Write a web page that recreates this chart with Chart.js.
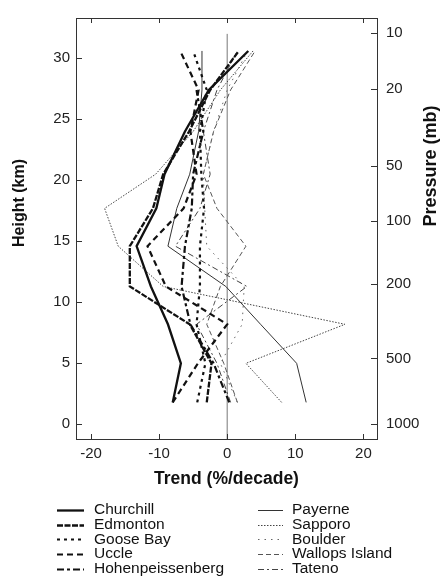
<!DOCTYPE html>
<html><head><meta charset="utf-8">
<script src="https://cdn.jsdelivr.net/npm/chart.js@4"></script>
<style>html,body{margin:0;padding:0;background:#fff;}</style>
</head><body>
<canvas id="c" width="444" height="577"></canvas>
<script>
// ---- data ----
const heightsKm = [1.8, 5.0, 8.2, 11.3, 14.6, 17.7, 20.5, 24.0, 27.4, 30.6];
const stationNames = ['Churchill','Edmonton','Goose Bay','Uccle','Hohenpeissenberg','Payerne','Sapporo','Boulder','Wallops Island','Tateno'];
const churchill        = [-8.0, -6.8, -8.7, -11.2, -13.3, -10.4, -9.2, -6.2, -2.7, 3.1];
const edmonton         = [-3.0, -2.3, -5.5, -14.3, -14.3, -10.9, -9.4, -5.6, -2.5, 1.7];
const gooseBay         = [-4.4, -3.2, -4.5, -4.0, -4.0, -3.4, -3.8, -4.0, -3.0, -5.0];
const uccle            = [-8.0, -4.3, 0.0, -9.0, -11.7, -6.4, -4.5, -5.4, -4.2, -6.9];
const hohenpeissenberg = [0.3, -2.0, -5.4, -6.7, -6.2, -5.2, -5.0, -3.5, -4.5, null];
const payerne          = [11.6, 10.2, 4.9, -0.2, -8.7, -7.4, -5.5, -4.2, -3.7, -3.7];
const sapporo          = [8.0, 2.75, 17.3, -9.4, -16.0, -18.0, -10.5, -5.0, -1.0, 3.8];
const boulder          = [1.5, -1.0, 2.2, 2.5, -3.0, -3.3, -3.5, -2.0, 0.0, 3.0];
const wallopsIsland    = [1.5, -0.5, -3.0, -1.0, 2.75, -1.5, -3.5, -2.0, 0.5, 4.1];
const tateno           = [0.5, -1.5, -4.5, 2.9, -7.6, -4.0, -2.5, -3.5, -1.5, 1.5];
const trendTicks = [-20, -10, 0, 10, 20];
const heightTicks = [0, 5, 10, 15, 20, 25, 30];
const pressureLabels = [1000, 500, 200, 100, 50, 20, 10];
const pressureHeightsKm = [0.0, 5.4, 11.5, 16.7, 21.2, 27.5, 32.1];
const zeroLineHeights = [-1.2, 32.0];

// ---- styles ----
const stationTrends = [churchill, edmonton, gooseBay, uccle, hohenpeissenberg, payerne, sapporo, boulder, wallopsIsland, tateno];
const styles = [
  {c:'#111', w:2.3, d:[]},
  {c:'#111', w:2.3, d:[6,1.5]},
  {c:'#111', w:2.2, d:[3,4]},
  {c:'#111', w:2.2, d:[6,4]},
  {c:'#111', w:2.2, d:[7,3,3,3]},
  {c:'#333', w:1, d:[]},
  {c:'#444', w:1, d:[1.5,1.5]},
  {c:'#666', w:1, d:[1.5,5]},
  {c:'#555', w:1, d:[5,3]},
  {c:'#444', w:1, d:[6,3,2,3]}
];
const FONT = '"Liberation Sans", Arial, sans-serif';

const datasets = stationNames.map((n, i) => ({
  label: n,
  data: heightsKm.map((h, j) => ({x: stationTrends[i][j], y: h})).filter(p => p.x !== null),
  borderColor: styles[i].c,
  borderWidth: styles[i].w,
  borderDash: styles[i].d,
  pointRadius: 0,
  showLine: true,
  fill: false,
  tension: 0
}));
datasets.push({
  label: 'zero',
  data: zeroLineHeights.map(h => ({x: 0, y: h})),
  borderColor: '#777', borderWidth: 1, pointRadius: 0, showLine: true, fill: false
});

function vText(ctx, text, x, y, size) {
  ctx.save();
  ctx.fillStyle = '#111';
  ctx.font = 'bold ' + size + 'px ' + FONT;
  ctx.textAlign = 'center'; ctx.textBaseline = 'middle';
  ctx.translate(x, y); ctx.rotate(-Math.PI / 2);
  ctx.fillText(text, 0, 0);
  ctx.restore();
}

const framePlugin = {
  id: 'frame',
  afterDraw(chart) {
    const ctx = chart.ctx, a = chart.chartArea;
    const xs = chart.scales.x, ys = chart.scales.y, y2 = chart.scales.y2;
    ctx.save();
    ctx.strokeStyle = '#333'; ctx.lineWidth = 1;
    ctx.strokeRect(a.left + 0.5, a.top + 0.5, a.right - a.left, a.bottom - a.top);
    ctx.beginPath();
    trendTicks.forEach(v => {
      const x = Math.round(xs.getPixelForValue(v)) + 0.5;
      ctx.moveTo(x, a.bottom); ctx.lineTo(x, a.bottom - 5);
      ctx.moveTo(x, a.top); ctx.lineTo(x, a.top + 5);
    });
    heightTicks.forEach(v => {
      const y = Math.round(ys.getPixelForValue(v)) + 0.5;
      ctx.moveTo(a.left, y); ctx.lineTo(a.left + 6, y);
    });
    pressureHeightsKm.forEach(v => {
      const y = Math.round(y2.getPixelForValue(v)) + 0.5;
      ctx.moveTo(a.right, y); ctx.lineTo(a.right - 6, y);
    });
    ctx.stroke();
    ctx.restore();
    // axis titles (read bottom to top)
    vText(ctx, 'Height (km)', 20, 203, 16);
    vText(ctx, 'Pressure (mb)', 431, 166, 18);
    // legend
    ctx.save();
    ctx.font = '15.5px ' + FONT;
    ctx.fillStyle = '#111';
    ctx.textAlign = 'left'; ctx.textBaseline = 'middle';
    stationNames.forEach((n, i) => {
      const col = i < 5 ? 0 : 1, row = i % 5;
      const y = 510 + row * 14.7;
      const sx0 = col ? 258 : 57, sx1 = col ? 283 : 84, tx = col ? 292 : 94;
      ctx.strokeStyle = styles[i].c;
      ctx.lineWidth = styles[i].w;
      ctx.setLineDash(styles[i].d);
      ctx.beginPath(); ctx.moveTo(sx0, Math.round(y) + 0.5); ctx.lineTo(sx1, Math.round(y) + 0.5); ctx.stroke();
      ctx.fillText(n, tx, y);
    });
    ctx.restore();
  }
};

new Chart(document.getElementById('c'), {
  type: 'scatter',
  data: {datasets},
  plugins: [framePlugin],
  options: {
    responsive: false, animation: false, devicePixelRatio: 1,
    layout: {padding: {top: 16, bottom: 78, left: 0, right: 0}},
    plugins: {legend: {display: false}, tooltip: {enabled: false}},
    scales: {
      x: {
        type: 'linear', min: -22.2, max: 22.0,
        afterBuildTicks: s => { s.ticks = trendTicks.map(v => ({value: v})); },
        afterFit: s => { s.height = 60; },
        grid: {display: false, drawTicks: false}, border: {display: false},
        ticks: {font: {family: FONT, size: 15}, color: '#222', padding: 6, maxRotation: 0, autoSkip: false},
        title: {display: true, text: 'Trend (%/decade)', font: {family: FONT, size: 17.5, weight: 'bold'}, color: '#111', padding: {top: 0, bottom: 9}}
      },
      y: {
        type: 'linear', position: 'left', min: -1.2, max: 33.3,
        afterBuildTicks: s => { s.ticks = heightTicks.map(v => ({value: v})); },
        afterFit: s => { s.width = 76; },
        grid: {display: false, drawTicks: false}, border: {display: false},
        ticks: {font: {family: FONT, size: 15}, color: '#222', padding: 6, autoSkip: false}
      },
      y2: {
        type: 'linear', position: 'right', min: -1.2, max: 33.3,
        afterBuildTicks: s => { s.ticks = pressureHeightsKm.map(v => ({value: v})); },
        afterFit: s => { s.width = 67; },
        grid: {display: false, drawTicks: false}, border: {display: false},
        ticks: {font: {family: FONT, size: 15}, color: '#222', padding: 9, autoSkip: false,
                callback: (v, i) => String(pressureLabels[i])}
      }
    }
  }
});
</script>
</body></html>
